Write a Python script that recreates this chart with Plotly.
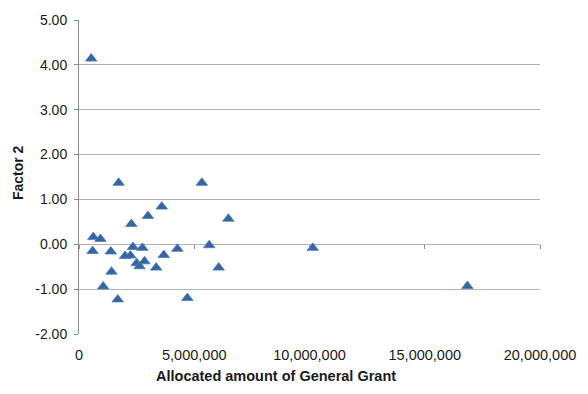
import plotly.graph_objects as go

# Allocated general grant (currency units) and the Factor 2 score per recipient
grant = [530000, 1720000, 5330000, 3590000, 2990000, 6480000, 2270000,
         620000, 930000, 590000, 1380000, 2340000, 2750000, 2000000,
         2230000, 2500000, 2630000, 2840000, 3680000, 3350000, 4270000,
         5650000, 6060000, 1410000, 1050000, 1680000, 4700000, 10140000,
         16850000]
factor2 = [4.14, 1.37, 1.37, 0.84, 0.63, 0.57, 0.45,
           0.16, 0.12, -0.15, -0.16, -0.06, -0.08, -0.26,
           -0.25, -0.42, -0.49, -0.38, -0.24, -0.52, -0.10,
           -0.02, -0.52, -0.61, -0.94, -1.23, -1.20, -0.08,
           -0.93]

x_ticks = [0, 5000000, 10000000, 15000000, 20000000]
x_labels = ["0", "5,000,000", "10,000,000", "15,000,000", "20,000,000"]
y_ticks = [-2, -1, 0, 1, 2, 3, 4, 5]
y_labels = ["-2.00", "-1.00", "0.00", "1.00", "2.00", "3.00", "4.00", "5.00"]

font_family = "Liberation Sans, Arial, sans-serif"
grid_color = "#b3b3b3"
axis_color = "#8c8c8c"

fig = go.Figure()
fig.add_trace(go.Scatter(
    x=grant, y=factor2, mode="markers",
    marker=dict(symbol="triangle-up", size=10, color="#3566a3",
                line=dict(color="#4a7cbd", width=0.8)),
    showlegend=False,
))

y_min, y_max = -2, 5

fig.update_layout(
    width=588, height=394,
    margin=dict(l=79, r=45, t=14, b=60),
    paper_bgcolor="white", plot_bgcolor="white",
    font=dict(family=font_family, size=14, color="#1a1a1a"),
    xaxis=dict(
        range=[0, 20000000], tickvals=x_ticks, ticktext=x_labels,
        showgrid=False, zeroline=False, showline=False,
        ticks="", ticklen=0, tickfont=dict(size=14.5),
        ticklabelstandoff=10,
        fixedrange=True,
    ),
    # second x axis placed on the y = 0 line, carrying only short tick marks
    xaxis2=dict(
        overlaying="x", anchor="free",
        position=(0 - y_min) / (y_max - y_min),
        range=[0, 20000000], tickvals=x_ticks,
        showticklabels=False, showgrid=False, zeroline=False,
        showline=False, ticks="outside", ticklen=4, tickwidth=1,
        tickcolor=axis_color,
    ),
    yaxis=dict(
        range=[y_min, y_max], tickvals=y_ticks, ticktext=y_labels,
        showgrid=True, gridcolor=grid_color, gridwidth=1.3,
        zeroline=False, showline=True, linecolor=axis_color, linewidth=1,
        ticks="outside", ticklen=4, tickcolor=axis_color,
        tickfont=dict(size=14), ticklabelstandoff=4,
        fixedrange=True,
    ),
    annotations=[
        dict(text="<b>Allocated amount of General Grant</b>",
             xref="paper", yref="paper", x=(277 - 79) / 464, y=0,
             yshift=-42, xanchor="center", yanchor="middle",
             showarrow=False, font=dict(size=14.5, color="#1a1a1a")),
        dict(text="<b>Factor 2</b>", textangle=-90,
             xref="paper", yref="paper", x=0, xshift=-61,
             y=(334.3 - 171) / 318.6, xanchor="center", yanchor="middle",
             showarrow=False, font=dict(size=14, color="#1a1a1a")),
    ],
)

# dummy invisible trace so the overlay axis is rendered
fig.add_trace(go.Scatter(x=[], y=[], xaxis="x2", showlegend=False))

fig.write_html("out.html")
